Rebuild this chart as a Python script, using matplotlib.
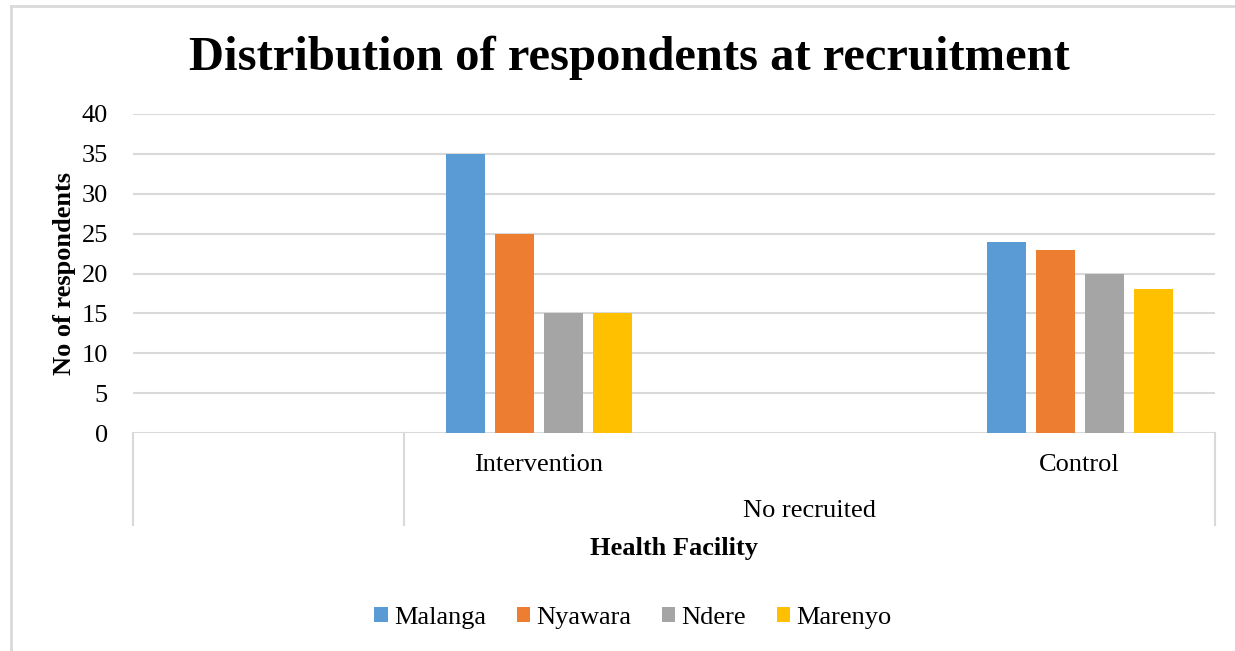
import matplotlib
matplotlib.use("Agg")
import matplotlib.pyplot as plt
from matplotlib.patches import Patch
from matplotlib.lines import Line2D

plt.rcParams['font.family'] = ['Liberation Serif', 'DejaVu Serif']

# Data
categories = ["", "Intervention", "", "Control"]
outer_groups = [("", 0, 0), ("No recruited", 1, 3)]
series_names = ["Malanga", "Nyawara", "Ndere", "Marenyo"]
malanga = [0, 35, 0, 24]
nyawara = [0, 25, 0, 23]
ndere = [0, 15, 0, 20]
marenyo = [0, 15, 0, 18]
colors = ["#5B9BD5", "#ED7D31", "#A5A5A5", "#FFC000"]

W, H = 1235, 651
fs = 19
fig = plt.figure(figsize=(W / 100, H / 100), dpi=100)
ax = fig.add_axes([133 / W, 1 - 433 / H, (1215 - 133) / W, (433 - 114) / H])

series = [malanga, nyawara, ndere, marenyo]
step = 0.181
bar_w = 0.144
x = list(range(len(categories)))
for i, (name, vals) in enumerate(zip(series_names, series)):
    off = (i - 1.5) * step
    xs = [c + off for c, v in zip(x, vals) if v > 0]
    vs = [v for v in vals if v > 0]
    ax.bar(xs, vs, width=bar_w, color=colors[i], label=name, zorder=3)

ax.set_xlim(-0.5, len(categories) - 0.5)
ax.set_ylim(0, 40)
ax.set_yticks(range(0, 41, 5))
ax.set_xticks([])
ax.tick_params(axis='y', length=0, pad=18, labelsize=fs)
for s in ax.spines.values():
    s.set_visible(False)
ax.yaxis.grid(True, color="#d9d9d9", linewidth=1.5, zorder=0)
ax.set_axisbelow(True)
ax.set_ylabel("No of respondents", fontsize=fs, fontweight='bold', labelpad=4)

# multi-level category axis
trans = ax.get_xaxis_transform()
depth = -(525 - 433) / (433 - 114)
bounds = [-0.5] + [g[1] - 0.5 for g in outer_groups[1:]] + [len(categories) - 0.5]
for b in bounds:
    ax.plot([b, b], [0, depth], transform=trans, color="#d9d9d9", lw=1.5, clip_on=False)
for c, lab in zip(x, categories):
    ax.text(c, -(465 - 433) / 319, lab, transform=trans, ha='center', va='center', fontsize=fs)
for lab, a, b in outer_groups:
    ax.text((a + b) / 2, -(511 - 433) / 319, lab, transform=trans, ha='center', va='center', fontsize=fs)

fig.text(674 / W, 1 - 548 / H, "Health Facility", ha='center', va='center', fontsize=fs, fontweight='bold')
fig.text(629 / W, 1 - 58 / H, "Distribution of respondents at recruitment", ha='center', va='center',
         fontsize=35, fontweight='bold')

handles = [Patch(facecolor=c, edgecolor='none') for c in colors]
fig.legend(handles, series_names, loc='center', bbox_to_anchor=(633 / W, 1 - 618 / H), ncol=4,
           frameon=False, fontsize=fs, handlelength=0.5, handleheight=0.5, handletextpad=0.25,
           columnspacing=1.15)

# chart border (cropped)
fig.add_artist(Line2D([11 / W, 11 / W], [0, 1 - 6 / H], color="#d9d9d9", lw=2))
fig.add_artist(Line2D([11 / W, 1], [1 - 6 / H, 1 - 6 / H], color="#d9d9d9", lw=2))

fig.savefig("out.png", dpi=100, facecolor='white')
